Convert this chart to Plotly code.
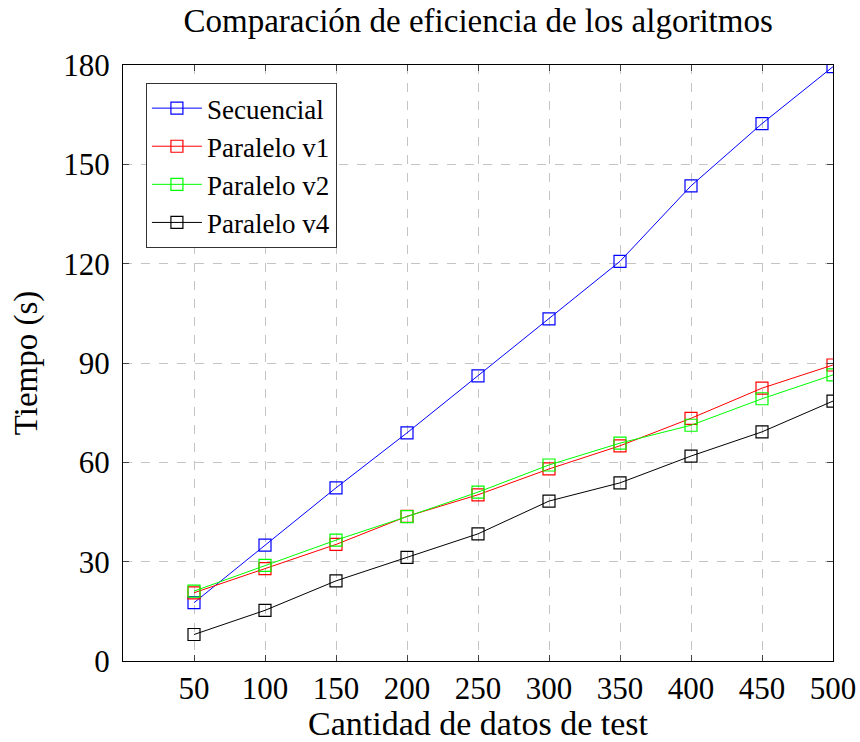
import plotly.graph_objects as go

x_vals = [50, 100, 150, 200, 250, 300, 350, 400, 450, 500]
secuencial = [17.6, 35.0, 52.3, 68.9, 86.1, 103.3, 120.7, 143.5, 162.3, 179.5]
paralelo_v1 = [20.6, 27.9, 35.2, 43.7, 50.2, 58.0, 65.0, 73.3, 82.4, 89.4]
paralelo_v2 = [21.1, 28.9, 36.5, 43.6, 51.0, 59.2, 65.8, 71.2, 79.2, 86.4]
paralelo_v4 = [8.0, 15.3, 24.2, 31.3, 38.4, 48.3, 53.8, 61.9, 69.2, 78.5]
y_ticks = [0, 30, 60, 90, 120, 150, 180]

series = [
    ("Secuencial", secuencial, "#0000ff"),
    ("Paralelo v1", paralelo_v1, "#ff0000"),
    ("Paralelo v2", paralelo_v2, "#00ff00"),
    ("Paralelo v4", paralelo_v4, "#000000"),
]

fig = go.Figure()
for name, vals, col in series:
    fig.add_trace(go.Scatter(
        x=x_vals, y=vals, name=name, mode="lines+markers",
        line=dict(color=col, width=1),
        marker=dict(symbol="square-open", size=12, color=col, line=dict(width=1.2)),
    ))

ff = "Liberation Serif"
axis_common = dict(
    showline=True, linecolor="black", linewidth=1.2, mirror="ticks",
    ticks="inside", ticklen=6, tickcolor="#444", automargin=False,
    showgrid=True, gridcolor="#c4c4c4", griddash="dash", gridwidth=1,
    zeroline=False, tickfont=dict(size=31, color="black", family=ff),
)

fig.update_layout(
    width=860, height=742,
    paper_bgcolor="white", plot_bgcolor="white",
    margin=dict(l=123, r=27, t=65, b=81),
    font=dict(family=ff, color="black"),
    title=dict(text="Comparación de eficiencia de los algoritmos",
               x=0.556, xanchor="center", xref="container", y=0.973, yanchor="middle",
               font=dict(size=33, family=ff, color="black")),
    xaxis=dict(range=[0, 500], tickvals=x_vals, ticklabelstandoff=0,
               title=dict(text="Cantidad de datos de test", font=dict(size=34, family=ff, color="black"), standoff=4),
               **axis_common),
    yaxis=dict(range=[0, 180], tickvals=y_ticks, ticklabelstandoff=6,
               title=dict(text="Tiempo (s)", font=dict(size=33, family=ff, color="black"), standoff=15),
               **axis_common),
    legend=dict(x=0.032, y=0.97, xanchor="left", yanchor="top",
                bgcolor="white", bordercolor="#333", borderwidth=1.2,
                font=dict(size=27, family=ff, color="black"),
                tracegroupgap=0, itemwidth=50),
    showlegend=True,
)

fig.write_html("out.html")
